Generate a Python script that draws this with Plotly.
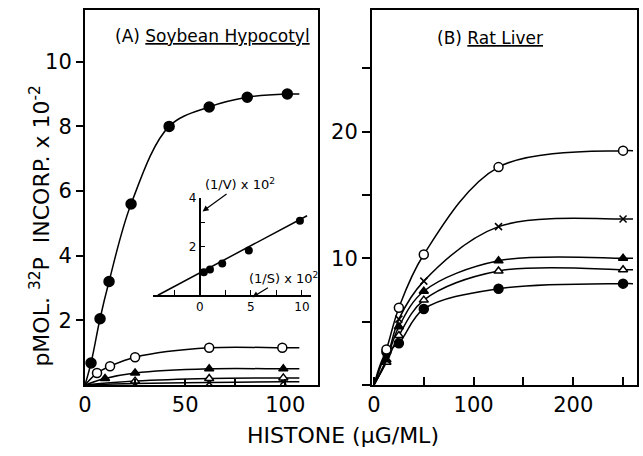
import plotly.graph_objects as go

# ---------------- data ----------------
# Panel A: Soybean hypocotyl
a_fc_x = [3, 7.5, 12, 23, 42, 62, 81, 101]
a_fc_y = [0.68, 2.05, 3.2, 5.6, 8.0, 8.6, 8.9, 9.0]
a_oc_x = [6, 12.5, 25, 62, 98.5]
a_oc_y = [0.37, 0.58, 0.86, 1.15, 1.15]
a_ft_x = [10, 25, 62, 99]
a_ft_y = [0.2, 0.37, 0.5, 0.5]
a_ot_x = [25, 62, 99]
a_ot_y = [0.12, 0.2, 0.22]
a_cr_x = [25, 62, 99]
a_cr_y = [0.05, 0.08, 0.1]
a_curve_end = 107

# Inset: double reciprocal plot
ins_x = [0.4, 1.0, 2.2, 4.8, 9.8]
ins_y = [0.95, 1.06, 1.3, 1.84, 3.06]
ins_line_x = [-4.1, 10.5]
ins_line_y = [0.0, 3.27]

# Panel B: Rat liver
b_x = [12.5, 25, 50, 125, 250]
b_oc_y = [2.8, 6.1, 10.3, 17.2, 18.5]
b_cr_y = [2.0, 5.2, 8.2, 12.5, 13.1]
b_ft_y = [2.0, 4.6, 7.4, 9.8, 10.0]
b_ot_y = [1.8, 3.9, 6.7, 9.0, 9.1]
b_fc_y = [2.6, 3.3, 6.0, 7.6, 8.0]
b_curve_end = 260

# tick labels
a_xticks = [0, 50, 100]
a_yticks = [2, 4, 6, 8, 10]
b_xticks = [0, 100, 200]
b_yticks = [10, 20]
ins_xticks = [0, 5, 10]
ins_yticks = [2, 4]

FONT = "DejaVu Sans"
BLK = "black"

fig = go.Figure()


def add_series(xs, ys, xend, xa, ya, symbol, fill, size):
    lx = [0] + list(xs) + [xend]
    ly = [0] + list(ys) + [ys[-1]]
    fig.add_trace(go.Scatter(x=lx, y=ly, mode="lines", xaxis=xa, yaxis=ya,
                             line=dict(color=BLK, width=1.5, shape="spline", smoothing=1.0),
                             hoverinfo="skip"))
    fig.add_trace(go.Scatter(x=xs, y=ys, mode="markers", xaxis=xa, yaxis=ya,
                             marker=dict(symbol=symbol, size=size, color=fill,
                                         line=dict(color=BLK, width=1.5))))


# Panel A
add_series(a_cr_x, a_cr_y, a_curve_end, "x", "y", "x-thin-open", BLK, 6)
add_series(a_ot_x, a_ot_y, a_curve_end, "x", "y", "triangle-up", "white", 8)
add_series(a_ft_x, a_ft_y, a_curve_end, "x", "y", "triangle-up", BLK, 8)
add_series(a_oc_x, a_oc_y, a_curve_end, "x", "y", "circle", "white", 9)
add_series(a_fc_x, a_fc_y, a_curve_end, "x", "y", "circle", BLK, 10)

# Inset
fig.add_trace(go.Scatter(x=ins_line_x, y=ins_line_y, mode="lines", xaxis="x3", yaxis="y3",
                         line=dict(color=BLK, width=1.5)))
fig.add_trace(go.Scatter(x=ins_x, y=ins_y, mode="markers", xaxis="x3", yaxis="y3",
                         marker=dict(symbol="circle", size=8, color=BLK)))

# Panel B
add_series(b_x, b_fc_y, b_curve_end, "x2", "y2", "circle", BLK, 9)
add_series(b_x, b_ot_y, b_curve_end, "x2", "y2", "triangle-up", "white", 8)
add_series(b_x, b_ft_y, b_curve_end, "x2", "y2", "triangle-up", BLK, 8)
add_series(b_x, b_cr_y, b_curve_end, "x2", "y2", "x-thin-open", BLK, 7)
add_series(b_x, b_oc_y, b_curve_end, "x2", "y2", "circle", "white", 9)

axis_common = dict(showline=True, linecolor=BLK, linewidth=2, showgrid=False, zeroline=False,
                   tickcolor=BLK, tickwidth=1.5, tickfont=dict(family=FONT, size=21, color=BLK))
inset_common = dict(showline=True, linecolor=BLK, linewidth=1.5, showgrid=False, zeroline=False,
                    tickcolor=BLK, tickwidth=1.2, tickfont=dict(family=FONT, size=12, color=BLK))

fig.update_layout(
    width=643, height=456,
    margin=dict(l=85, r=4, t=9, b=71),
    paper_bgcolor="white", plot_bgcolor="white",
    showlegend=False,
    font=dict(family=FONT, color=BLK),
    xaxis=dict(domain=[0, 0.4224], range=[0, 116.4], anchor="y", mirror=True,
               tickmode="array", tickvals=a_xticks,
               ticks="inside", ticklen=6,
               minor=dict(tick0=0, dtick=25, ticks="inside", ticklen=6, tickcolor=BLK, tickwidth=1.5),
               **axis_common),
    yaxis=dict(domain=[0, 1], range=[0, 11.6], anchor="x", mirror=True,
               tickmode="array", tickvals=a_yticks,
               ticks="outside", ticklen=7, **axis_common),
    xaxis2=dict(domain=[0.5199, 1], range=[-2, 264], anchor="y2", mirror=True,
                tickmode="array", tickvals=b_xticks,
                ticks="inside", ticklen=8,
                minor=dict(tick0=0, dtick=50, ticks="inside", ticklen=8, tickcolor=BLK, tickwidth=1.5),
                **axis_common),
    yaxis2=dict(domain=[0, 1], range=[0, 29.6], anchor="x2", mirror=True,
                tickmode="array", tickvals=b_yticks,
                ticks="outside", ticklen=8,
                minor=dict(tick0=0, dtick=5, ticks="outside", ticklen=8, tickcolor=BLK, tickwidth=1.5),
                **axis_common),
    xaxis3=dict(domain=[0.1227, 0.4097], range=[-4.6, 10.9], anchor="y3",
                tickmode="array", tickvals=ins_xticks,
                ticks="inside", ticklen=5,
                minor=dict(tick0=0, dtick=2.5, ticks="inside", ticklen=5, tickcolor=BLK, tickwidth=1.2),
                **inset_common),
    yaxis3=dict(domain=[0.2394, 0.5], range=[0, 4.02], anchor="free", position=0.2076,
                tickmode="array", tickvals=ins_yticks,
                ticks="inside", ticklen=5,
                minor=dict(tick0=0, dtick=1, ticks="inside", ticklen=5, tickcolor=BLK, tickwidth=1.2),
                **inset_common),
)

ann = [
    dict(text="pMOL. <sup>32</sup>P  INCORP. x 10<sup>-2</sup>", textangle=-90,
         x=-0.0812, y=0.4229, font=dict(size=22)),
    dict(text="HISTONE (μG/ML)", x=0.4675, y=-0.1356, font=dict(size=22)),
    dict(text="(A) <u>Soybean Hypocotyl</u>", x=0.2310, y=0.9309, font=dict(size=17)),
    dict(text="(B) <u>Rat Liver</u>", x=0.7329, y=0.9255, font=dict(size=17)),
]
for a in ann:
    fig.add_annotation(xref="paper", yref="paper", showarrow=False,
                       xanchor="center", yanchor="middle", **a)

# inset axis labels with arrows
fig.add_annotation(xref="paper", yref="paper", x=(203 - 85) / 554, y=(385 - 211) / 376,
                   text="(1/V) x 10<sup>2</sup>", showarrow=True, ax=37, ay=-27,
                   arrowhead=2, arrowsize=1, arrowwidth=1.2, arrowcolor=BLK,
                   font=dict(size=13, family=FONT, color=BLK))
fig.add_annotation(xref="paper", yref="paper", x=(253 - 85) / 554, y=(385 - 297) / 376,
                   text="(1/S) x 10<sup>2</sup>", showarrow=True, ax=31, ay=-19,
                   arrowhead=2, arrowsize=1, arrowwidth=1.2, arrowcolor=BLK,
                   font=dict(size=13, family=FONT, color=BLK))

# remove the default page margin so the figure fills the 643x456 window exactly
fig.write_html("out.html",
               config={"displayModeBar": False},
               post_script="document.body.style.margin='0';document.body.style.overflow='hidden';")
